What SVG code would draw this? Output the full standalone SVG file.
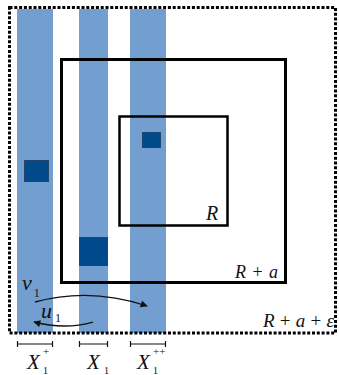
<svg xmlns="http://www.w3.org/2000/svg" width="339" height="375" viewBox="0 0 339 375">
<defs>
<style>
.stripe{fill:#729fd0}
.blk{fill:#004a8c;stroke:#23446e;stroke-width:1}
.box{fill:none;stroke:#000}
.t{font-family:"Liberation Serif",serif;font-style:italic;fill:#111}
.n{font-style:normal}
.c{fill:none;stroke:#111;stroke-width:1.3}
</style>
<marker id="ah" viewBox="0 0 10 10" refX="9" refY="5" markerWidth="8" markerHeight="7" orient="auto" markerUnits="userSpaceOnUse">
<path d="M0,0 L10,5 L0,10 Z" fill="#111"/>
</marker>
</defs>
<rect width="339" height="375" fill="#fff"/>
<g id="stripes">
<rect class="stripe" x="17" y="9" width="36" height="324"/>
<rect class="stripe" x="79" y="9" width="29" height="324"/>
<rect class="stripe" x="130" y="9" width="36" height="324"/>
</g>
<g id="boundary">
<rect x="9.5" y="7.5" width="326" height="325.5" fill="none" stroke="#000" stroke-width="3" stroke-dasharray="3 1.8"/>
<text class="t" x="263" y="327" font-size="19" textLength="71" lengthAdjust="spacing">R<tspan class="n"> + </tspan>a<tspan class="n"> + </tspan>ε</text>
</g>
<g id="box-Ra">
<rect class="box" x="61.5" y="59.5" width="224" height="223" stroke-width="3"/>
<text class="t" x="235" y="278" font-size="18" textLength="43" lengthAdjust="spacing">R<tspan class="n"> + </tspan>a</text>
</g>
<g id="box-R">
<rect class="box" x="119.5" y="116.5" width="108" height="109" stroke-width="2.5"/>
<text class="t" x="206" y="220" font-size="20">R</text>
</g>
<g id="blocks">
<rect class="blk" x="24.5" y="160.5" width="24" height="21"/>
<rect class="blk" x="79.5" y="237.5" width="28" height="28"/>
<rect class="blk" x="142.5" y="132.5" width="18" height="15"/>
</g>
<g id="connectors">
<path class="c" d="M35,302 Q90,287 147,306" marker-end="url(#ah)"/>
<path class="c" d="M93,322 Q65,330 34,322" marker-end="url(#ah)"/>
</g>
<g id="labels">
<text class="t" x="22" y="290" font-size="22">v<tspan class="n" font-size="12" dx="2" dy="7">1</tspan></text>
<text class="t" x="41" y="318" font-size="22">u<tspan class="n" font-size="12" dx="3" dy="4">1</tspan></text>
</g>
<g id="brackets" stroke="#111" stroke-width="1.2">
<path d="M17,344H53M17.5,341V347M52.5,341V347"/>
<path d="M79,344H108M79.5,341V347M107.5,341V347"/>
<path d="M130,344H166M130.5,341V347M165.5,341V347"/>
</g>
<g id="xlabels">
<text class="t" x="27" y="369" font-size="21">X</text>
<text class="t n" x="43" y="355" font-size="11">+</text>
<text class="t n" x="43" y="374" font-size="10">1</text>
<text class="t" x="87" y="369" font-size="21">X</text>
<text class="t n" x="104" y="374" font-size="10">1</text>
<text class="t" x="137" y="369" font-size="21">X</text>
<text class="t n" x="153" y="355" font-size="11">++</text>
<text class="t n" x="153" y="374" font-size="10">1</text>
</g>
</svg>
